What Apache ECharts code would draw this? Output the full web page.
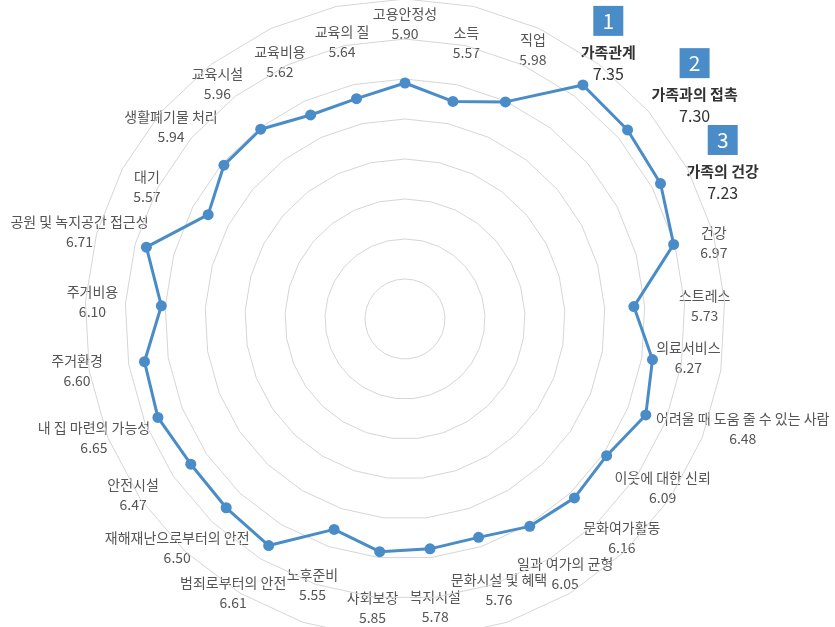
<!DOCTYPE html>
<html>
<head>
<meta charset="utf-8">
<script src="https://cdn.jsdelivr.net/npm/echarts@6/dist/echarts.min.js"></script>
<style>
html,body{margin:0;padding:0;background:#fff;}
#c{width:835px;height:627px;}
</style>
</head>
<body>
<div id="c"></div>
<script>
// ---- data ----
const categories = ['고용안정성','소득','직업','가족관계','가족과의 접촉','가족의 건강','건강','스트레스','의료서비스','어려울 때 도움 줄 수 있는 사람','이웃에 대한 신뢰','문화여가활동','일과 여가의 균형','문화시설 및 혜택','복지시설','사회보장','노후준비','범죄로부터의 안전','재해재난으로부터의 안전','안전시설','내 집 마련의 가능성','주거환경','주거비용','공원 및 녹지공간 접근성','대기','생활폐기물 처리','교육시설','교육비용','교육의 질'];
const values = [5.90,5.57,5.98,7.35,7.30,7.23,6.97,5.73,6.27,6.48,6.09,6.16,6.05,5.76,5.78,5.85,5.55,6.61,6.50,6.47,6.65,6.60,6.10,6.71,5.57,5.94,5.96,5.62,5.64];
const valueLabels = ['5.90','5.57','5.98','7.35','7.30','7.23','6.97','5.73','6.27','6.48','6.09','6.16','6.05','5.76','5.78','5.85','5.55','6.61','6.50','6.47','6.65','6.60','6.10','6.71','5.57','5.94','5.96','5.62','5.64'];
const ranks = {3:'1', 4:'2', 5:'3'};
const scaleMax = 8;

// ---- layout (label placement, px from chart centre, and small angle turn in degrees) ----
const CX = 405, CY = 319, R = 320;
const labelDist = [295,283,298,327,360,346,318,300,286,355,308,308,301,287,289,291,281,323,323,324,333,332,313,337,290,303,301,286,284];
const labelTurn = [0,0.1,0.6,1.2,3.9,4.6,1.7,0.6,-1.5,-3.8,-0.9,-1.3,-1.1,-0.5,0.2,0.2,0.6,1.1,1.4,1.2,0.8,0.4,0,-0.5,-0.8,-0.9,-1.3,-1.1,-0.4];

const BLUE = '#4a8cc8';
const FONT = '"Noto Sans CJK KR", "Noto Sans", sans-serif';

// ECharts lays radar indicators out counter-clockwise; the reference runs clockwise,
// so feed the indicators as [first, ...rest reversed].
const order = [0].concat(categories.map((_, i) => i).slice(1).reverse());

const chart = echarts.init(document.getElementById('c'));

const graphics = [];
categories.forEach((name, i) => {
  const a = (i * 360 / categories.length + labelTurn[i]) * Math.PI / 180;
  const x = CX + labelDist[i] * Math.sin(a);
  const y = CY - labelDist[i] * Math.cos(a);
  const top = ranks[i] !== undefined;
  const col = top ? '#333' : '#555';
  const lh = top ? 22 : 20;
  graphics.push({
    type: 'text', x: x, y: y, silent: true,
    style: {
      text: '{n|' + name + '}\n{v|' + valueLabels[i] + '}',
      align: 'center', verticalAlign: 'middle',
      rich: {
        n: {fontFamily: FONT, fontSize: top ? 15 : 14, fontWeight: top ? 'bold' : 'normal', fill: col, color: col, lineHeight: lh, align: 'center'},
        v: {fontFamily: FONT, fontSize: top ? 16 : 14, fontWeight: 'normal', fill: col, color: col, lineHeight: lh, align: 'center'}
      }
    }
  });
  if (top) {
    graphics.push({
      type: 'rect', silent: true,
      shape: {x: x - 15, y: y - 57, width: 30, height: 30},
      style: {fill: BLUE}
    });
    graphics.push({
      type: 'text', silent: true, x: x, y: y - 42,
      style: {text: ranks[i], fill: '#fff', fontFamily: FONT, fontSize: 21, align: 'center', verticalAlign: 'middle'}
    });
  }
});

chart.setOption({
  animation: false,
  backgroundColor: '#fff',
  radar: {
    center: [CX, CY],
    radius: R,
    startAngle: 90,
    shape: 'polygon',
    splitNumber: 8,
    indicator: order.map(i => ({name: categories[i], min: 0, max: scaleMax})),
    axisName: {show: false},
    axisLine: {show: false},
    axisTick: {show: false},
    axisLabel: {show: false},
    splitArea: {show: false},
    splitLine: {lineStyle: {color: '#d6d6d6', width: 1}}
  },
  series: [{
    type: 'radar',
    symbol: 'circle',
    symbolSize: 11,
    lineStyle: {color: BLUE, width: 3},
    itemStyle: {color: BLUE},
    data: [{value: order.map(i => values[i])}]
  }],
  graphic: graphics
});
</script>
</body>
</html>
